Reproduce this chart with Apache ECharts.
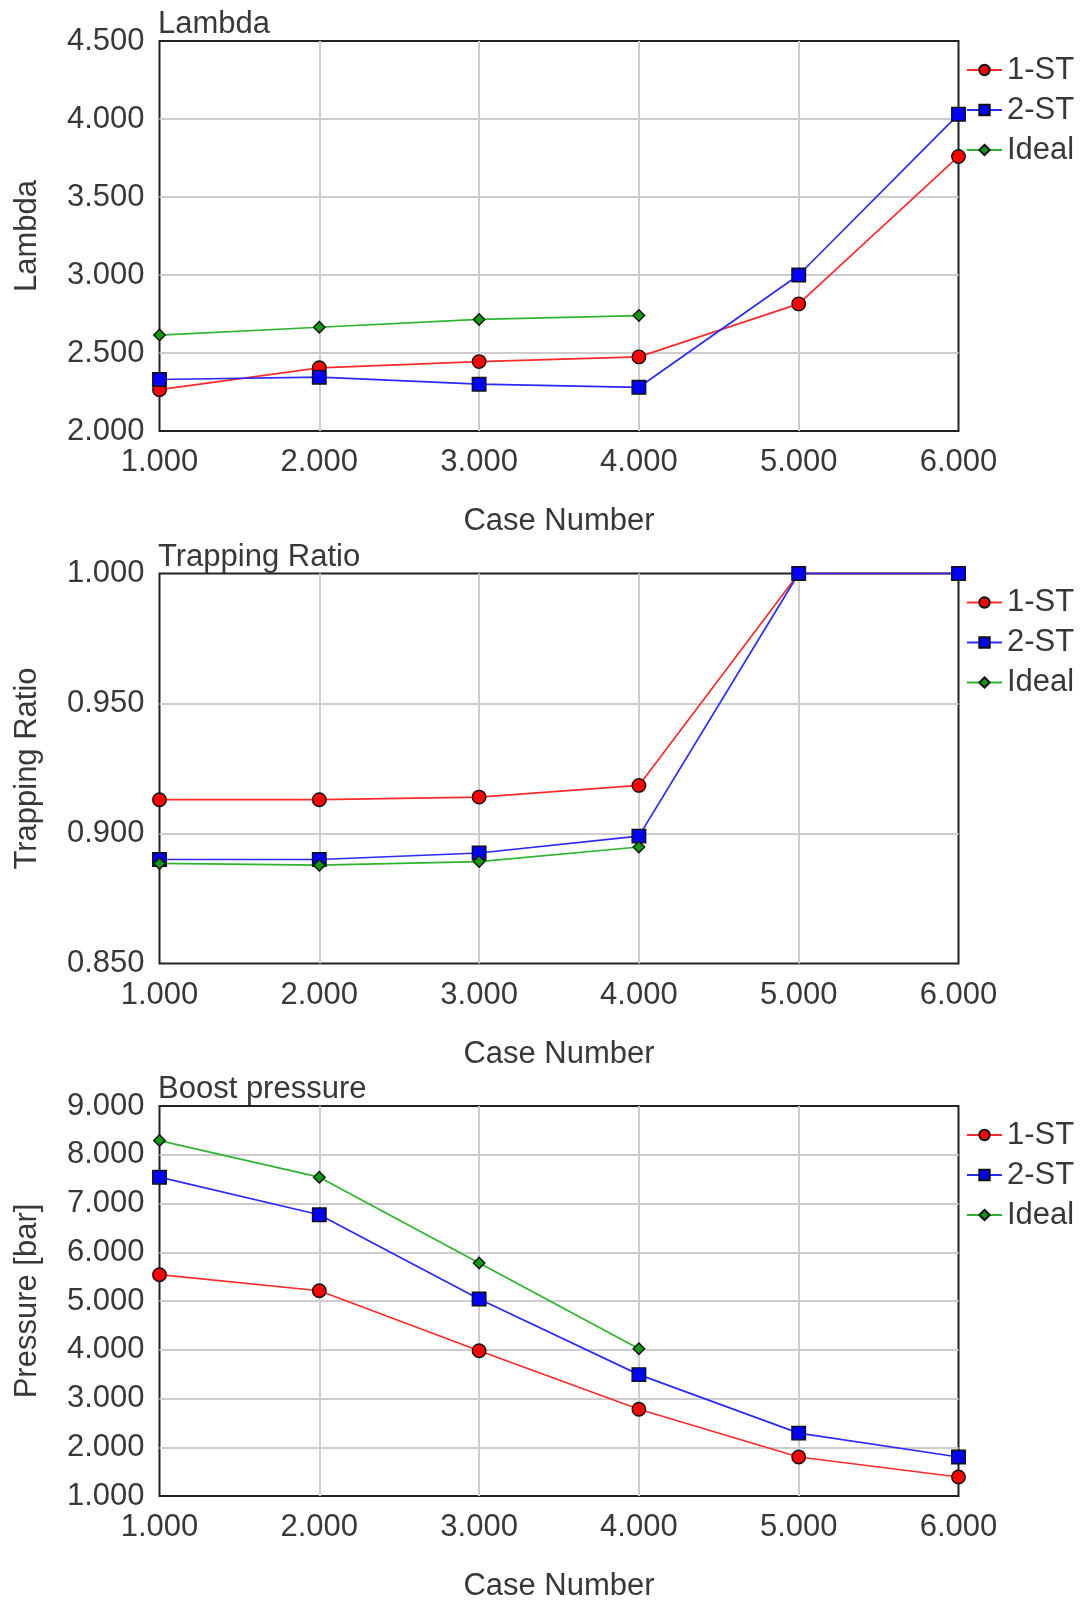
<!DOCTYPE html>
<html>
<head>
<meta charset="utf-8">
<script src="https://cdn.jsdelivr.net/npm/echarts@6/dist/echarts.min.js"></script>
<style>
  html, body { margin: 0; padding: 0; background: #fff; }
  #chart { width: 1082px; height: 1600px; }
</style>
</head>
<body>
<div id="chart"></div>
<script>
// Case numbers shared by all three panels
const caseNumbers = [1, 2, 3, 4, 5, 6];
const idealCases = [1, 2, 3, 4];

// Lambda
const lambda1ST = [2.265, 2.405, 2.445, 2.475, 2.815, 3.76];
const lambda2ST = [2.33, 2.345, 2.30, 2.28, 3.0, 4.03];
const lambdaIdeal = [2.615, 2.665, 2.715, 2.74];

// Trapping ratio
const trap1ST = [0.913, 0.913, 0.914, 0.9185, 1.0, 1.0];
const trap2ST = [0.890, 0.890, 0.8925, 0.899, 1.0, 1.0];
const trapIdeal = [0.8885, 0.8878, 0.8892, 0.8948];

// Boost pressure [bar]
const boost1ST = [5.54, 5.21, 3.98, 2.78, 1.80, 1.39];
const boost2ST = [7.54, 6.77, 5.04, 3.49, 2.29, 1.80];
const boostIdeal = [8.29, 7.54, 5.78, 4.02];

const seriesNames = ['1-ST', '2-ST', 'Ideal'];

const panels = [
  { title: 'Lambda', yName: 'Lambda', min: 2, max: 4.5, interval: 0.5,
    data: [lambda1ST, lambda2ST, lambdaIdeal] },
  { title: 'Trapping Ratio', yName: 'Trapping Ratio', min: 0.85, max: 1.0, interval: 0.05,
    data: [trap1ST, trap2ST, trapIdeal] },
  { title: 'Boost pressure', yName: 'Pressure [bar]', min: 1, max: 9, interval: 1,
    data: [boost1ST, boost2ST, boostIdeal] }
];

const plotTops = [41, 573.5, 1106];
const plotLeft = 159.5;
const plotWidth = 799;
const plotHeight = 390;

const textColor = '#383838';
const fontFamily = '"Liberation Sans", Arial, sans-serif';
const fontSize = 31;

const styles = [
  { line: '#ff2a2a', fill: '#ff0000', symbol: 'circle', size: 13.5 },
  { line: '#2a2aff', fill: '#0000ff', symbol: 'rect', size: 13.5 },
  { line: '#2db52d', fill: '#119a11', symbol: 'diamond', size: 11.5 }
];

const pair = (xs, ys) => ys.map((v, i) => [xs[i], v]);

const grid = [], xAxis = [], yAxis = [], title = [], legend = [], series = [];

const splitLine = {
  show: true, showMinLine: false, showMaxLine: false,
  lineStyle: { color: '#cdcdcd', width: 2 }
};

panels.forEach((p, k) => {
  const top = plotTops[k];
  grid.push({
    left: plotLeft, top: top, width: plotWidth, height: plotHeight,
    show: true, borderColor: '#222', borderWidth: 2,
    backgroundColor: '#fff', outerBoundsMode: 'none'
  });
  title.push({
    text: p.title, left: 158, top: top - 32, padding: 0,
    textStyle: { fontSize: fontSize, fontWeight: 'normal', color: textColor, fontFamily: fontFamily }
  });
  legend.push({
    data: seriesNames, orient: 'vertical', left: 966, top: top + 13.5,
    itemWidth: 35, itemHeight: 13, itemGap: 9, padding: 0,
    textStyle: { fontSize: fontSize, color: textColor, fontFamily: fontFamily, lineHeight: 31 }
  });
  xAxis.push({
    type: 'value', gridIndex: k, min: 1, max: 6, interval: 1,
    name: 'Case Number', nameLocation: 'middle', nameGap: 75,
    nameTextStyle: { fontSize: fontSize, color: textColor, fontFamily: fontFamily },
    axisLine: { show: false }, axisTick: { show: false },
    axisLabel: { formatter: v => v.toFixed(3), fontSize: fontSize, color: textColor,
                 fontFamily: fontFamily, margin: 16 },
    splitLine: splitLine
  });
  yAxis.push({
    type: 'value', gridIndex: k, min: p.min, max: p.max, interval: p.interval,
    name: p.yName, nameLocation: 'middle', nameGap: 117, nameRotate: 90,
    nameTextStyle: { fontSize: fontSize, color: textColor, fontFamily: fontFamily },
    axisLine: { show: false }, axisTick: { show: false },
    axisLabel: { formatter: v => v.toFixed(3), fontSize: fontSize, color: textColor,
                 fontFamily: fontFamily, margin: 15, padding: [4, 0, 0, 0] },
    splitLine: splitLine
  });
  p.data.forEach((ys, s) => {
    const st = styles[s];
    series.push({
      name: seriesNames[s], type: 'line', xAxisIndex: k, yAxisIndex: k,
      data: pair(s === 2 ? idealCases : caseNumbers, ys),
      symbol: st.symbol, symbolSize: st.size, showAllSymbol: true, clip: false,
      lineStyle: { color: st.line, width: 1.7 },
      itemStyle: { color: st.fill, borderColor: '#111', borderWidth: 1.4 },
      emphasis: { disabled: true }, animation: false
    });
  });
});

const chart = echarts.init(document.getElementById('chart'));
chart.setOption({
  animation: false,
  backgroundColor: '#fff',
  title, legend, grid, xAxis, yAxis, series
});
</script>
</body>
</html>
